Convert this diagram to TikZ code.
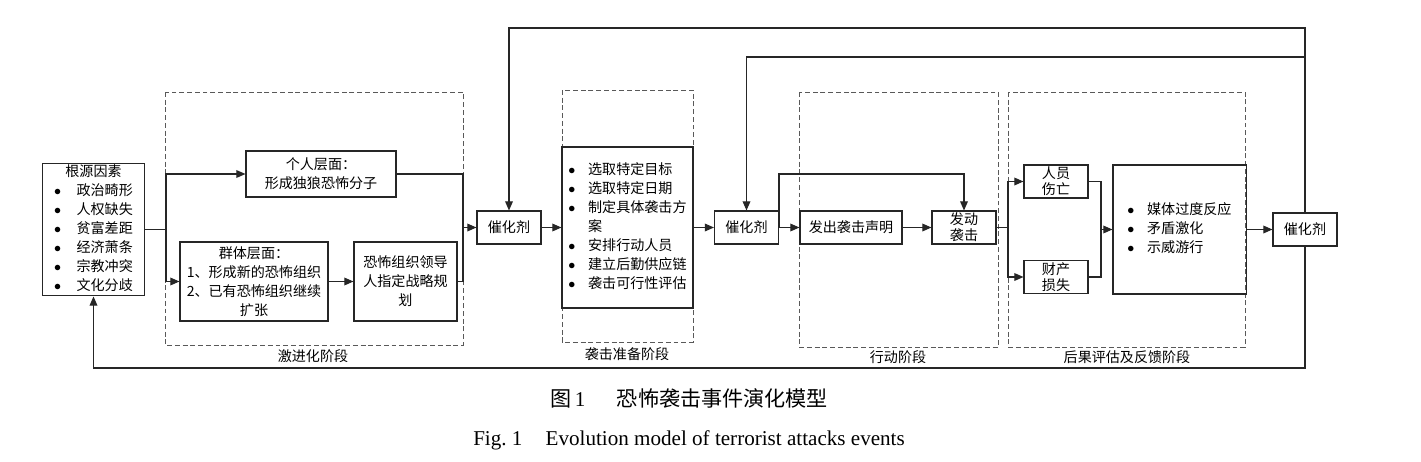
\documentclass[tikz,border=0pt]{standalone}
\usepackage{fontspec}
\setmainfont{Liberation Serif}
\newfontfamily\cjk{Noto Sans CJK SC}
\usetikzlibrary{positioning}
\usetikzlibrary{arrows.meta}
\newcommand{\itemdot}{$\bullet$}

\begin{document}
\begin{tikzpicture}[x=0.025cm, y=-0.025cm,
box/.style={rectangle, draw=black!85, line width=0.75pt, inner sep=1pt, align=center, font=\cjk\fontsize{10}{13.5}\selectfont},
catnode/.style={box, minimum width=1.6cm, minimum height=0.825cm},
twoline/.style={box, minimum width=1.6cm, minimum height=0.825cm, inner sep=0pt, font=\cjk\fontsize{10}{11.5}\selectfont},
listbox/.style={box, inner sep=0pt},
phase/.style={draw=black!65, line width=0.6pt, dash pattern=on 3.5pt off 2pt},
phaselabel/.style={font=\cjk\fontsize{10}{12}\selectfont},
arr/.style={-{Triangle[length=6.5pt,width=5.5pt]}, line width=0.75pt, draw=black!85},
link/.style={line width=0.75pt, draw=black!85},
]
\useasboundingbox (0,0) rectangle (1421,461);

%Phases
\draw[phase] (165,92) rectangle (463,345);
\draw[phase] (562,90) rectangle (693,342);
\draw[phase] (799,92) rectangle (998,347);
\draw[phase] (1008,92) rectangle (1245,347);
\node[phaselabel] (radlabel)  at (313,356)  {激进化阶段};
\node[phaselabel] (preplabel) at (627,354)  {袭击准备阶段};
\node[phaselabel] (actlabel)  at (898,357)  {行动阶段};
\node[phaselabel] (evallabel) at (1127,357) {后果评估及反馈阶段};

%Nodes
\node[listbox, minimum width=2.55cm, minimum height=3.225cm] (root) at (93.5,229.5)
  {\begin{tabular}{@{}l@{\hspace{1.1em}}l@{}}
   \multicolumn{2}{c}{根源因素}\\
   \itemdot & 政治畸形\\
   \itemdot & 人权缺失\\
   \itemdot & 贫富差距\\
   \itemdot & 经济萧条\\
   \itemdot & 宗教冲突\\
   \itemdot & 文化分歧
   \end{tabular}};
\node[box, minimum width=3.75cm, minimum height=1.15cm] (indiv) at (321,174)
  {个人层面：\\形成独狼恐怖分子};
\node[box, minimum width=3.7cm, minimum height=1.975cm] (group) at (254,281.5)
  {群体层面：\\1、形成新的恐怖组织\\2、已有恐怖组织继续\\扩张};
\node[box, minimum width=2.575cm, minimum height=1.975cm] (leader) at (405.5,281.5)
  {恐怖组织领导\\人指定战略规\\划};
\node[catnode] (cat1) at (509,227.5) {催化剂};
\node[listbox, minimum width=3.275cm, minimum height=4.025cm] (prep) at (627.5,227.5)
  {\begin{tabular}{@{}l@{\hspace{0.9em}}l@{}}
   \itemdot & 选取特定目标\\
   \itemdot & 选取特定日期\\
   \itemdot & 制定具体袭击方\\
            & 案\\
   \itemdot & 安排行动人员\\
   \itemdot & 建立后勤供应链\\
   \itemdot & 袭击可行性评估
   \end{tabular}};
\node[catnode] (cat2) at (746.5,227.5) {催化剂};
\node[box, minimum width=2.55cm, minimum height=0.825cm] (announce) at (851,227.5) {发出袭击声明};
\node[twoline] (launch) at (964,227.5) {发动\\袭击};
\node[twoline] (casualty) at (1056,181.5) {人员\\伤亡};
\node[twoline] (damage) at (1056,277) {财产\\损失};
\node[listbox, minimum width=3.325cm, minimum height=3.225cm] (effect) at (1179.5,229.5)
  {\begin{tabular}{@{}l@{\hspace{0.9em}}l@{}}
   \itemdot & 媒体过度反应\\
   \itemdot & 矛盾激化\\
   \itemdot & 示威游行
   \end{tabular}};
\node[catnode] (cat3) at (1305,229.5) {催化剂};

%Joints
\coordinate (rsplit) at (166,229.5);
\coordinate (rjoin)  at (463,227.5);
\coordinate (c2up)   at (779,174);
\coordinate (lsplit) at (1008,227.5);
\coordinate (cjoin)  at (1101,229.5);
\coordinate (fbtop)  at (1305,28);
\coordinate (fbmid)  at (1305,57);
\coordinate (fbbot)  at (1305,368);

%Lines
\draw[link] (root.east) -- (rsplit);
\draw[arr] (rsplit) |- (indiv.west);
\draw[arr] (rsplit) |- (group.west);
\draw[arr] (group.east) -- (leader.west);
\draw[link] (indiv.east) -| (rjoin);
\draw[link] (leader.east) -| (rjoin);
\draw[arr] (rjoin) -- (cat1.west);
\draw[arr] (cat1.east) -- (prep.west);
\draw[arr] (prep.east) -- (cat2.west);
\draw[arr] (cat2.east) -- (announce.west);
\draw[arr] (cat2.east) -| (c2up) -| (launch.north);
\draw[arr] (announce.east) -- (launch.west);
\draw[link] (launch.east) -- (lsplit);
\draw[arr] (lsplit) |- (casualty.west);
\draw[arr] (lsplit) |- (damage.west);
\draw[link] (casualty.east) -| (cjoin);
\draw[link] (damage.east) -| (cjoin);
\draw[arr] (cjoin) -- (effect.west);
\draw[arr] (effect.east) -- (cat3.west);

%Feedback
\draw[arr] (cat3.north) -- (fbtop) -| (cat1.north);
\draw[arr] (fbmid) -| (cat2.north);
\draw[arr] (cat3.south) -- (fbbot) -| (root.south);

%Caption
\node (capcn) at (689,398) {\fontsize{15}{18}\selectfont{\cjk 图}\,1\hspace{1.5em}{\cjk 恐怖袭击事件演化模型}};
\node (capen) at (689,440) {\fontsize{15}{18}\selectfont Fig.~1\hspace{1.1em}Evolution model of terrorist attacks events};
\end{tikzpicture}
\end{document}
